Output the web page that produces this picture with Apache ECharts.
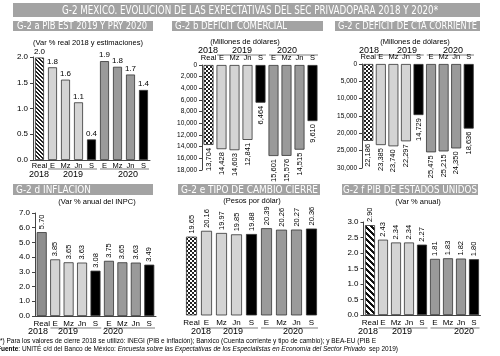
<!DOCTYPE html>
<html><head><meta charset="utf-8">
<script src="https://cdn.jsdelivr.net/npm/echarts@6/dist/echarts.min.js"></script>
<style>html,body{margin:0;padding:0;background:#fff}#c{width:500px;height:356px}</style>
</head><body><div id="c"></div>
<script>
// ---- data ----
const categories = ['Real','E','Mz','Jn','S','E','Mz','Jn','S'];
const years = ['2018','2019','2020'];
const pibMex = [1.99,1.80,1.56,1.12,0.40,1.92,1.81,1.66,1.36];
const pibMexLabels = ['2.0','1.8','1.6','1.1','0.4','1.9','1.8','1.7','1.4'];
const balanzaComercial = [13704,14428,14603,12841,6464,15601,15576,14515,9610];
const cuentaCorriente = [22186,23385,23740,22297,14729,25475,25215,24350,18636];
const inflacion = [5.70,3.85,3.65,3.63,3.08,3.75,3.65,3.63,3.49];
const tipoCambio = [19.65,20.16,19.97,19.85,19.88,20.39,20.26,20.27,20.36];
const pibEU = [2.90,2.43,2.34,2.34,2.27,1.81,1.83,1.82,1.80];

const mainTitle = 'G-2 MEXICO. EVOLUCION DE LAS EXPECTATIVAS DEL SEC PRIVADOPARA 2018 Y 2020*';
const panelTitles = ['G-2 a PIB EST 2019 Y PRY 2020','G-2 b DEFICIT COMERCIAL','G-2 c DEFICIT DE CTA CORRIENTE',
  'G-2 d INFLACION','G-2 e TIPO DE CAMBIO CIERRE','G-2 f PIB DE ESTADOS UNIDOS'];
const subtitles = ['(Var % real 2018 y estimaciones)','(Millones de dólares)','(Millones de dólares)',
  '(Var % anual del INPC)','(Pesos por dólar)','(Var % anual)'];
const note1 = '*) Para los valores de cierre 2018 se utilizó: INEGI (PIB e inflación); Banxico (Cuenta corriente y tipo de cambio); y BEA-EU (PIB E';
const note2 = '{b|Fuente}: UNITÉ c/d del Banco de México: {i|Encuesta sobre las Expectativas de los Especialistas en Economía del Sector Privado}  sep 2019)';

// ---- patterns ----
function makePattern(kind){
  const c=document.createElement('canvas');
  const ctx=c.getContext('2d');
  if(kind==='checker'){
    c.width=c.height=4; ctx.fillStyle='#fff'; ctx.fillRect(0,0,4,4);
    ctx.fillStyle='#222'; ctx.fillRect(0,0,2,2); ctx.fillRect(2,2,2,2);
  } else if(kind==='fine'){
    c.width=c.height=4; ctx.fillStyle='#fff'; ctx.fillRect(0,0,4,4);
    ctx.fillStyle='#222';
    for(let i=0;i<4;i++){ ctx.fillRect(i,i,1,1); ctx.fillRect((i+1)%4,i,1,1); }
  } else {
    c.width=c.height=6; ctx.fillStyle='#fff'; ctx.fillRect(0,0,6,6);
    ctx.fillStyle='#111';
    for(let i=0;i<6;i++){ for(let k=0;k<3;k++) ctx.fillRect((i+k)%6,i,1,1); }
  }
  return {image:c, repeat:'repeat'};
}
const patFine = makePattern('fine'), patChecker = makePattern('checker'), patCoarse = makePattern('coarse');

function colorsFor(realFill){
  return categories.map((c,i)=> i===0 ? realFill : (i===4||i===8) ? '#000' : (i<4 ? '#d4d4d4' : '#9a9a9a'));
}

const FONT = '"Liberation Sans", Arial, sans-serif';
const panels = [
  {grid:{left:33,top:57,width:117,height:103}, data:pibMex, min:0,max:2,interval:0.5, yfmt:v=>v.toFixed(1), yShow:true, yFont:8,
   inverse:false, xPos:'bottom', real:patFine, barWidth:9, label:{position:'top',distance:2,fontSize:8, formatter:p=>pibMexLabels[p.dataIndex]}},
  {grid:{left:202,top:65,width:117,height:105}, data:balanzaComercial, min:0,max:18000,interval:2000, yfmt:v=>v.toLocaleString('en-US'), yShow:true, yFont:6.5,
   inverse:true, xPos:'top', real:patChecker, barWidth:10, label:{position:'bottom',distance:3,fontSize:7.5,rotate:90,align:'right',verticalAlign:'middle', formatter:p=>p.value.toLocaleString('en-US')}},
  {grid:{left:362,top:64,width:113,height:104}, data:cuentaCorriente, min:0,max:30000,interval:5000, yfmt:v=>v.toLocaleString('en-US'), yShow:true, yFont:6.5,
   inverse:true, xPos:'top', real:patChecker, barWidth:10, label:{position:'bottom',distance:3,fontSize:7.5,rotate:90,align:'right',verticalAlign:'middle', formatter:p=>p.value.toLocaleString('en-US')}},
  {grid:{left:35,top:213,width:121,height:103}, data:inflacion, min:0,max:7,interval:1, yfmt:v=>v.toFixed(1), yShow:true, yFont:8,
   inverse:false, xPos:'bottom', real:'#8e8e8e', barWidth:10, label:{position:'top',distance:3,fontSize:7.5,rotate:90,align:'left',verticalAlign:'middle', formatter:p=>p.value.toFixed(2)}},
  {grid:{left:184,top:219,width:135,height:96}, data:tipoCambio, min:12.75,max:21.2,interval:1, yfmt:v=>v, yShow:false, yFont:8,
   inverse:false, xPos:'bottom', real:patChecker, barWidth:11, label:{position:'top',distance:3,fontSize:7.5,rotate:90,align:'left',verticalAlign:'middle', formatter:p=>p.value.toFixed(2)}},
  {grid:{left:363.5,top:222,width:117,height:93}, data:pibEU, min:0,max:3,interval:0.5, yfmt:v=>v.toFixed(1), yShow:true, yFont:8,
   inverse:false, xPos:'bottom', real:patCoarse, barWidth:10, label:{position:'top',distance:3,fontSize:7.5,rotate:90,align:'left',verticalAlign:'middle', formatter:p=>p.value.toFixed(2)}}
];

const option = {animation:false, backgroundColor:'#fff', grid:[], xAxis:[], yAxis:[], series:[]};
panels.forEach((p,i)=>{
  option.grid.push(Object.assign({containLabel:false}, p.grid));
  option.xAxis.push({type:'category', gridIndex:i, data:categories, position:p.xPos,
    axisLine:{show:p.xPos==='bottom' && i!==4, lineStyle:{color:'#444',width:1}}, axisTick:{show:false},
    axisLabel:{fontSize:i<3?7.5:8, color:'#000', fontFamily:FONT, margin:i===0?2:(i<3?3:4), interval:0}});
  option.yAxis.push({type:'value', gridIndex:i, min:p.min, max:p.max, interval:p.interval, inverse:p.inverse, show:p.yShow,
    axisLine:{show:true, lineStyle:{color:'#444',width:1}}, axisTick:{show:true,length:3,lineStyle:{color:'#444'}},
    splitLine:{show:false}, axisLabel:{fontSize:p.yFont, color:'#000', fontFamily:FONT, margin:5, formatter:p.yfmt}});
  const cols = colorsFor(p.real);
  option.series.push({type:'bar', xAxisIndex:i, yAxisIndex:i, barWidth:p.barWidth,
    data:p.data.map((v,k)=>({value:v, itemStyle:{color:cols[k]}})),
    itemStyle:{borderColor:'#333', borderWidth:0.8},
    label:Object.assign({show:true, color:'#000', fontFamily:FONT}, p.label)});
});
const chart = echarts.init(document.getElementById('c'), null, {renderer:'canvas', width:500, height:356});
chart.setOption(option);

// ---- decorations ----
const mctx = document.createElement('canvas').getContext('2d');
const TFONT_FAM = '"Liberation Sans Narrow","DejaVu Sans Condensed","Liberation Sans",sans-serif';
function fitText(text, x, yMid, targetW, size, weight, fill){
  const font = weight+' '+size+'px '+TFONT_FAM;
  mctx.font = font;
  const w = mctx.measureText(text).width;
  const s = targetW / w;
  return {type:'text', x:x, y:yMid, scaleX:s, z:100,
    style:{text:text, font:font, fill:fill, align:'left', textAlign:'left', verticalAlign:'middle', textVerticalAlign:'middle'}};
}
const g = [];
const GRAY = '#a3a3a3';
g.push({type:'rect', shape:{x:13,y:3,width:467,height:14}, style:{fill:GRAY}});
g.push(fitText(mainTitle, 62, 10.5, 376, 13, 'normal', '#fff'));
const titleBars = [
  {x:13,y:21,w:140,h:10, tx:17, tw:130},
  {x:172,y:21,w:151,h:10, tx:175, tw:112},
  {x:335,y:21,w:145,h:10, tx:338, tw:139},
  {x:13,y:184,w:140,h:11, tx:16, tw:75},
  {x:178,y:184,w:142,h:11, tx:181, tw:137},
  {x:342,y:184,w:136,h:11, tx:343, tw:134}
];
titleBars.forEach((b,i)=>{
  g.push({type:'rect', shape:{x:b.x,y:b.y,width:b.w,height:b.h}, style:{fill:GRAY}});
  g.push(fitText(panelTitles[i], b.tx, b.y+b.h/2+0.5, b.tw, 10.5, 'normal', '#fff'));
});
const subPos = [[88,43],[245,42],[415,42],[97,202],[252,201],[418,202]];
subPos.forEach((s,i)=>{
  g.push({type:'text', x:s[0], y:s[1], style:{text:subtitles[i], font:'7.5px '+FONT, fill:'#000', align:'center', textAlign:'center', verticalAlign:'middle', textVerticalAlign:'middle'}});
});
// group lines computed from category positions
const lineY = [169, 55, 55, 328, 328, 328];
panels.forEach((p,i)=>{
  const bw = p.grid.width / categories.length;
  const cx = k => chart.convertToPixel({xAxisIndex:i}, k);
  [[1,4],[5,8]].forEach(([a,b])=>{
    const x1 = cx(a) - bw/2 + 2, x2 = cx(b) + bw/2 - 1;
    g.push({type:'rect', shape:{x:x1, y:lineY[i]-0.75, width:x2-x1, height:1.5}, style:{fill:'#a8a8a8'}});
  });
});
const yearPos = [
  [[39,73,128],174.5],[[208,242,287],51],[[369,407,453],51],
  [[38,68,113],331.5],[[201,233,293],331.5],[[368,402,464],331.5]
];
yearPos.forEach(([xs,y])=>{
  xs.forEach((x,k)=>g.push({type:'text', x:x, y:y, style:{text:years[k], font:'9px '+FONT, fill:'#000', align:'center', textAlign:'center', verticalAlign:'middle', textVerticalAlign:'middle'}}));
});
g.push({type:'text', x:0, y:341, style:{text:note1, font:'6.5px '+FONT, fill:'#000', align:'left', textAlign:'left', verticalAlign:'middle', textVerticalAlign:'middle'}});
g.push({type:'text', x:-3, y:349, style:{text:note2, font:'6.5px '+FONT, fill:'#000', align:'left', textAlign:'left', verticalAlign:'middle', textVerticalAlign:'middle',
  rich:{b:{fontWeight:'bold', fontSize:6.5, fontFamily:FONT}, i:{fontStyle:'italic', fontSize:6.5, fontFamily:FONT}}}});
chart.setOption({graphic:{elements:g}});
</script></body></html>
